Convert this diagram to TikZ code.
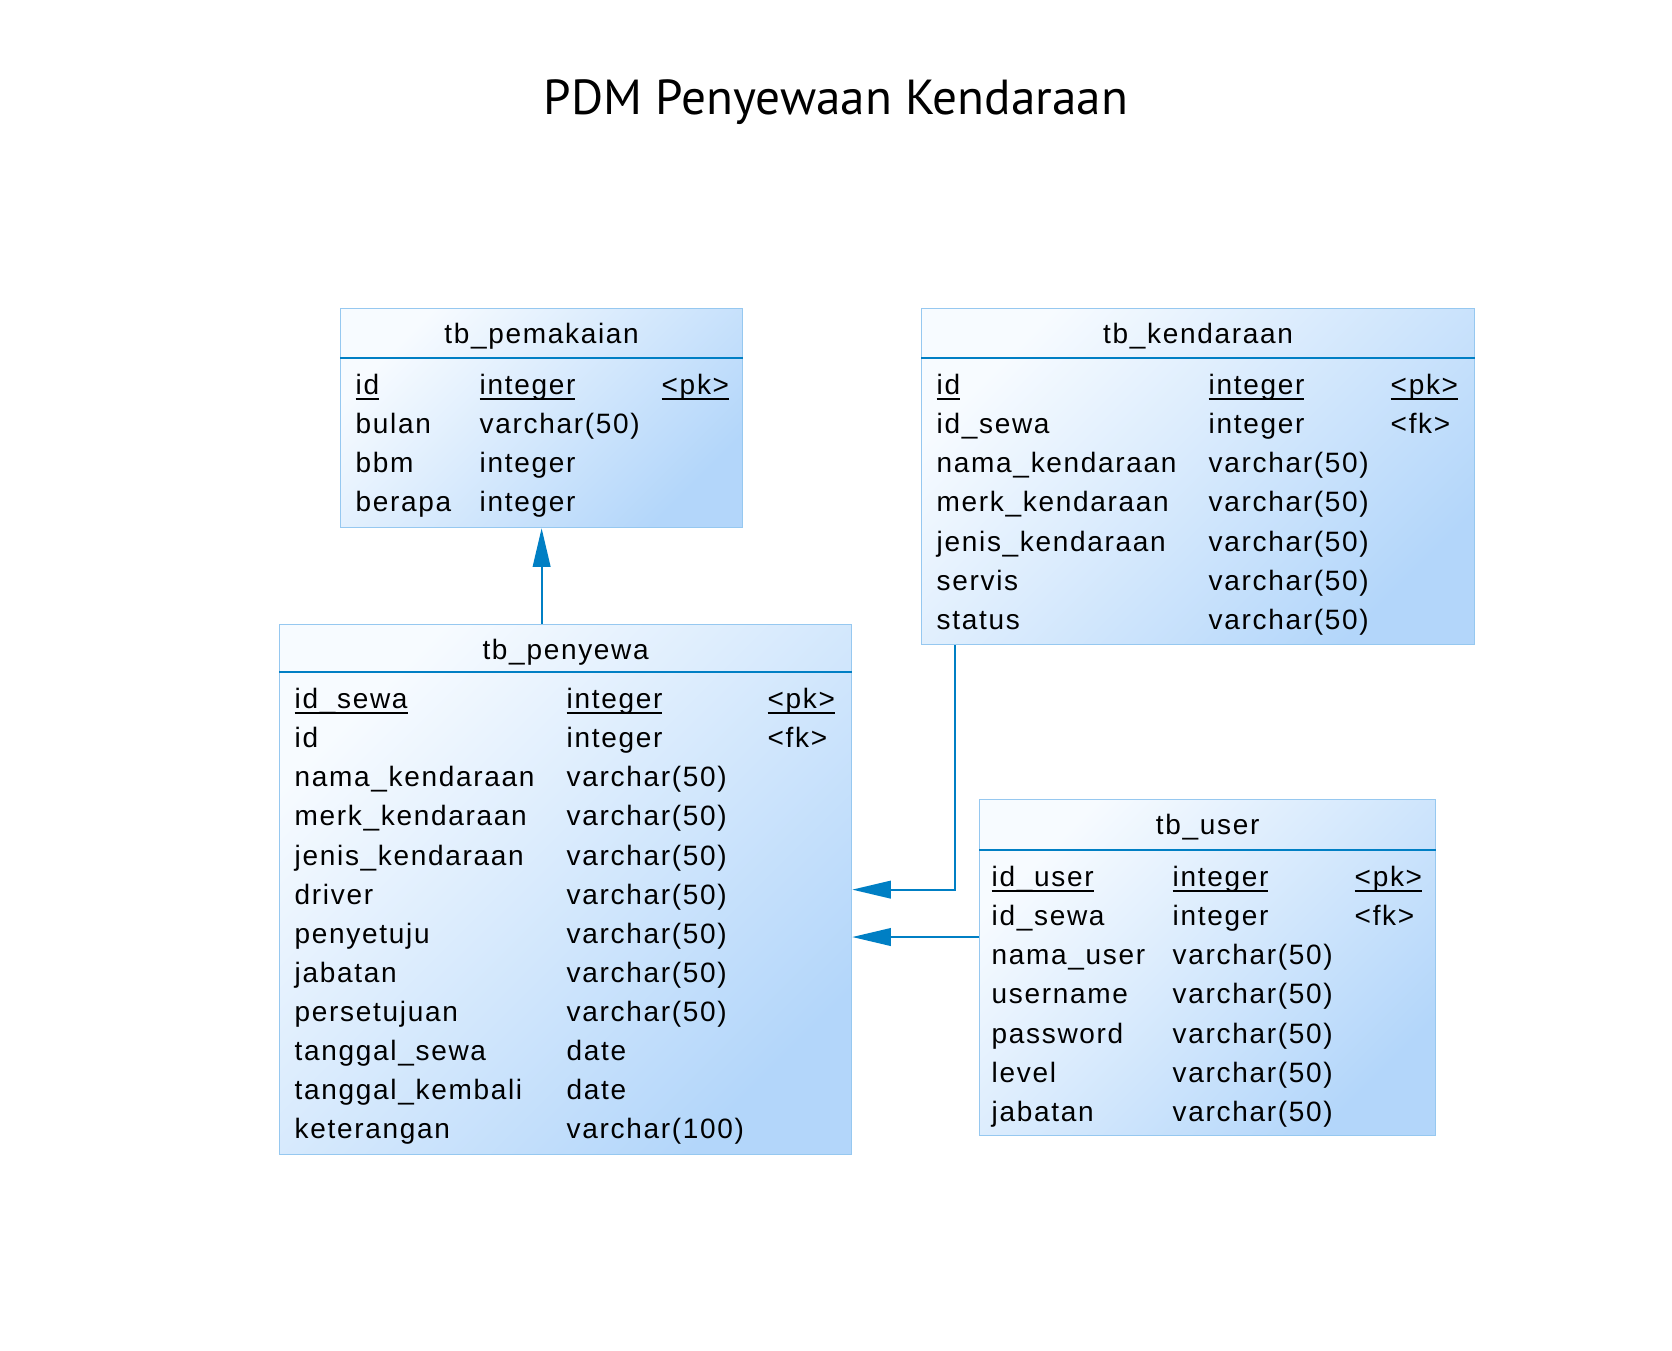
\documentclass[tikz,border=0pt]{standalone}
\usepackage{fontspec}
\usepackage{array}
\newfontfamily\tabfont[LetterSpace=6]{Liberation Sans}
\newfontfamily\titlefont{PT Sans}
\usetikzlibrary{arrows.meta,positioning}

\definecolor{tbltop}{RGB}{247,251,255}
\definecolor{tblbot}{RGB}{179,214,250}
\definecolor{tblborder}{RGB}{150,200,240}
\definecolor{fkblue}{RGB}{0,127,196}

% underline at a fixed depth for key rows
\newcommand{\pkul}[1]{\leavevmode\setbox0=\hbox{#1}\rlap{\rule[-1.4pt]{\wd0}{0.45pt}}#1}

\begin{document}
\begin{tikzpicture}[
  >={Triangle[length=11pt,width=5pt]},
  tbl/.style={
    draw=tblborder,
    line width=0.35pt,
    anchor=north west,
    inner sep=0pt,
    top color=tbltop,
    bottom color=tblbot,
    shading angle=45
  },
  tblname/.style={
    font=\tabfont\fontsize{7.97pt}{11.12pt}\selectfont,
    anchor=base,
    inner sep=0pt
  },
  tblbody/.style={
    font=\tabfont\fontsize{7.97pt}{11.12pt}\selectfont,
    anchor=north west,
    inner sep=0pt
  },
  hdr/.style={draw=fkblue, line width=0.75pt},
  fk/.style={->, draw=fkblue, line width=0.6pt}
]
\useasboundingbox (0,0) rectangle (16.72,-13.5);

\node[font=\titlefont\fontsize{14pt}{17pt}\selectfont, anchor=base] (title)
  at (8.36,-1.14) {PDM Penyewaan Kendaraan};

% tables
\node[tbl, minimum width=4.02cm, minimum height=2.19cm] (pemakaian) at (3.40,-3.08) {};
\node[tbl, minimum width=5.53cm, minimum height=3.36cm] (kendaraan) at (9.21,-3.08) {};
\node[tbl, minimum width=5.72cm, minimum height=5.30cm] (penyewa) at (2.79,-6.24) {};
\node[tbl, minimum width=4.56cm, minimum height=3.36cm] (user) at (9.79,-7.99) {};

\node[tblname] (pemakaian-title) at ([yshift=-3.5mm]pemakaian.north) {tb\_pemakaian};
\node[tblname] (kendaraan-title) at ([yshift=-3.5mm]kendaraan.north) {tb\_kendaraan};
\node[tblname] (penyewa-title) at ([yshift=-3.5mm]penyewa.north) {tb\_penyewa};
\node[tblname] (user-title) at ([yshift=-3.5mm]user.north) {tb\_user};

\draw[hdr] ([yshift=-5mm]pemakaian.north west) -- ([yshift=-5mm]pemakaian.north east);
\draw[hdr] ([yshift=-5mm]kendaraan.north west) -- ([yshift=-5mm]kendaraan.north east);
\draw[hdr] ([yshift=-4.8mm]penyewa.north west) -- ([yshift=-4.8mm]penyewa.north east);
\draw[hdr] ([yshift=-5.1mm]user.north west) -- ([yshift=-5.1mm]user.north east);

\node[tblbody] (pemakaian-body) at ([yshift=-5.86mm]pemakaian.north west) {%
\begin{tabular}{@{\hspace{1.5mm}}p{1.24cm}@{}p{1.82cm}@{}l@{}}
\pkul{id} & \pkul{integer} & \pkul{<pk>}\\
bulan & varchar(50) & \\
bbm & integer & \\
berapa & integer &
\end{tabular}};

\node[tblbody] (kendaraan-body) at ([yshift=-5.86mm]kendaraan.north west) {%
\begin{tabular}{@{\hspace{1.5mm}}p{2.72cm}@{}p{1.82cm}@{}l@{}}
\pkul{id} & \pkul{integer} & \pkul{<pk>}\\
id\_sewa & integer & <fk>\\
nama\_kendaraan & varchar(50) & \\
merk\_kendaraan & varchar(50) & \\
jenis\_kendaraan & varchar(50) & \\
servis & varchar(50) & \\
status & varchar(50) &
\end{tabular}};

\node[tblbody] (penyewa-body) at ([yshift=-5.66mm]penyewa.north west) {%
\begin{tabular}{@{\hspace{1.5mm}}p{2.72cm}@{}p{2.01cm}@{}l@{}}
\pkul{id\_sewa} & \pkul{integer} & \pkul{<pk>}\\
id & integer & <fk>\\
nama\_kendaraan & varchar(50) & \\
merk\_kendaraan & varchar(50) & \\
jenis\_kendaraan & varchar(50) & \\
driver & varchar(50) & \\
penyetuju & varchar(50) & \\
jabatan & varchar(50) & \\
persetujuan & varchar(50) & \\
tanggal\_sewa & date & \\
tanggal\_kembali & date & \\
keterangan & varchar(100) &
\end{tabular}};

\node[tblbody] (user-body) at ([yshift=-5.96mm]user.north west) {%
\begin{tabular}{@{\hspace{1.2mm}}p{1.81cm}@{}p{1.82cm}@{}l@{}}
\pkul{id\_user} & \pkul{integer} & \pkul{<pk>}\\
id\_sewa & integer & <fk>\\
nama\_user & varchar(50) & \\
username & varchar(50) & \\
password & varchar(50) & \\
level & varchar(50) & \\
jabatan & varchar(50) &
\end{tabular}};

% references
\draw[fk] (penyewa.north -| pemakaian.south) -- (pemakaian.south);
\draw[fk] ([xshift=3.4mm]kendaraan.south west) |- (penyewa.east);
\coordinate (userfk) at ([yshift=-13.8mm]user.north west);
\draw[fk] (userfk) -- (userfk -| penyewa.east);
\end{tikzpicture}
\end{document}
